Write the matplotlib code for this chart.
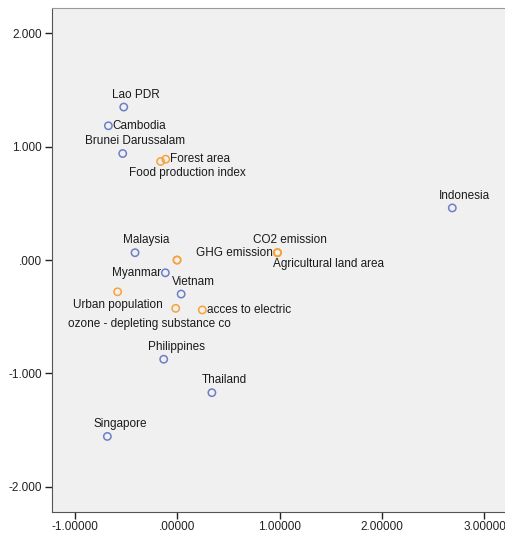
import matplotlib.pyplot as plt

plt.rcParams['font.family'] = ['Liberation Sans', 'DejaVu Sans']

# object scores: countries
countries = ['Lao PDR', 'Cambodia', 'Brunei Darussalam', 'Indonesia', 'Malaysia',
             'Myanmar', 'Vietnam', 'Philippines', 'Thailand', 'Singapore']
country_x = [-0.52, -0.67, -0.53, 2.686, -0.41, -0.114, 0.04, -0.13, 0.34, -0.68]
country_y = [1.35, 1.185, 0.94, 0.46, 0.065, -0.112, -0.30, -0.875, -1.17, -1.556]

# component loadings: indicators
variables = ['Forest area', 'Food production index', 'CO2 emission', 'GHG emission',
             'Agricultural land area', 'Urban population',
             'ozone - depleting substance co', 'acces to electric', '', '']
var_x = [-0.11, -0.16, 0.98, 0.98, 0.98, -0.58, -0.013, 0.247, 0.0, 0.0]
var_y = [0.89, 0.87, 0.065, 0.065, 0.065, -0.28, -0.426, -0.44, 0.0, 0.0]

# label placement (offset in points, alignment)
above = ((9, 4.5), 'center', 'bottom')
right = ((3, 0), 'left', 'center')
left = ((-3, 0), 'right', 'center')

country_pos = [above, right, above, above, ((8, 4.5), 'center', 'bottom'), left,
               above, above, above, above]
var_pos = [right, ((19, -4), 'center', 'top'), above, left,
           ((-3, -3.5), 'left', 'top'), ((0, -5.5), 'center', 'top'),
           ((-19, -7), 'center', 'top'), right, above, above]

blue = '#6c7fc8'
orange = '#f7a23a'
fs = 8.5

fig = plt.figure(figsize=(5.06, 5.33), dpi=100)
ax = fig.add_axes([0.1028, 0.04, 0.8972, 0.945])
ax.set_facecolor('#f0f0f0')

ax.scatter(country_x, country_y, s=28, facecolors='none', edgecolors=blue, linewidths=1.1, zorder=3)
ax.scatter(var_x, var_y, s=28, facecolors='none', edgecolors=orange, linewidths=1.1, zorder=3)

for name, x, y, (off, ha, va) in zip(countries, country_x, country_y, country_pos):
    ax.annotate(name, (x, y), xytext=off, textcoords='offset points',
                ha=ha, va=va, fontsize=fs, color='#1a1a1a')
for name, x, y, (off, ha, va) in zip(variables, var_x, var_y, var_pos):
    if name:
        ax.annotate(name, (x, y), xytext=off, textcoords='offset points',
                    ha=ha, va=va, fontsize=fs, color='#1a1a1a')

ax.set_xlim(-1.22, 3.21)
ax.set_ylim(-2.22, 2.224)
ax.set_xticks([-1, 0, 1, 2, 3])
ax.set_xticklabels(['-1.00000', '.00000', '1.00000', '2.00000', '3.00000'])
ax.set_yticks([2, 1, 0, -1, -2])
ax.set_yticklabels(['2.000', '1.000', '.000', '-1.000', '-2.000'])
ax.tick_params(length=5, width=1, labelsize=fs, colors='#222222', pad=2)

ax.spines['right'].set_visible(False)
ax.spines['top'].set_color('#999999')
ax.spines['left'].set_color('#555555')
ax.spines['bottom'].set_color('#555555')

fig.savefig('out.png', dpi=100)
